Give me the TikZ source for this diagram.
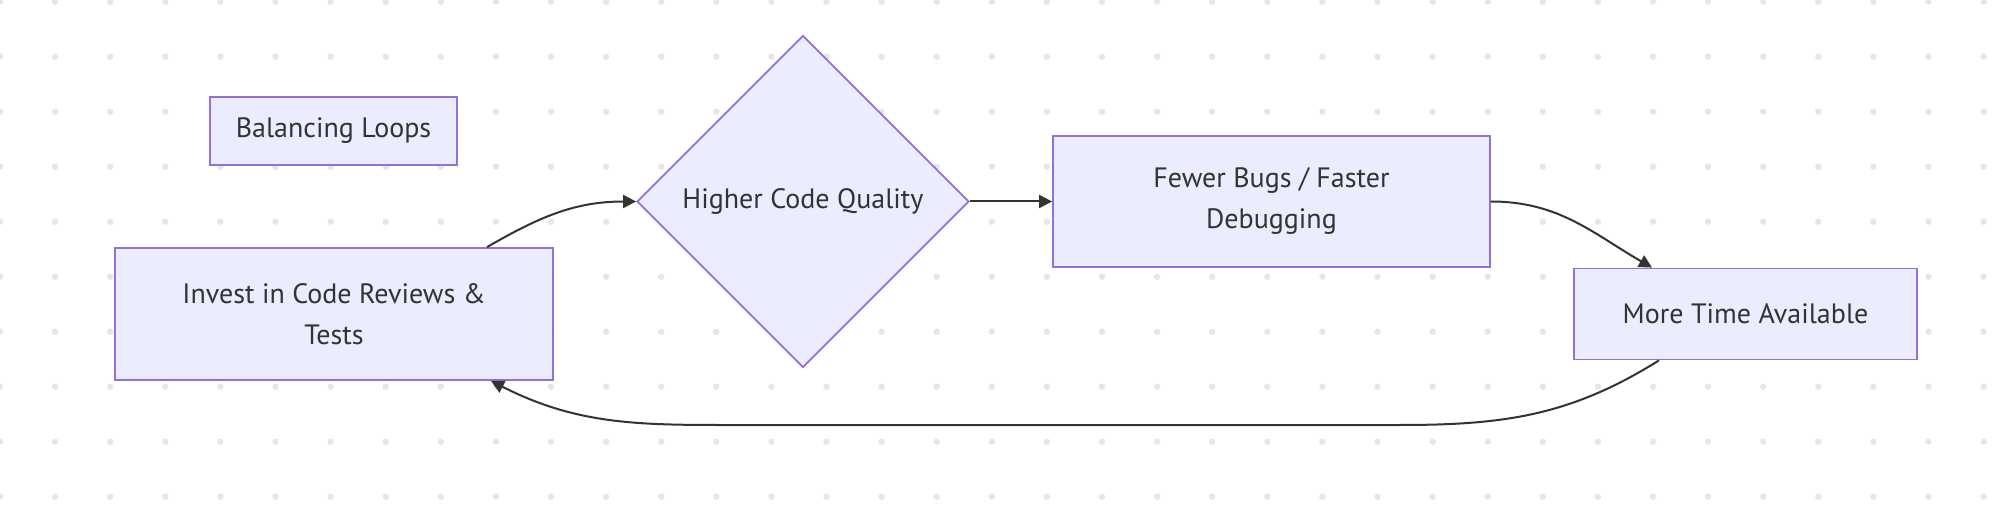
\documentclass[tikz,border=0pt]{standalone}
\usepackage{fontspec}
\setmainfont{PT Sans}
\usetikzlibrary{shapes.geometric,arrows.meta}
\definecolor{boxfill}{HTML}{ECECFF}
\definecolor{boxline}{HTML}{9370DB}
\definecolor{edgegray}{HTML}{333333}
\definecolor{dotgray}{HTML}{E6E6E6}

\begin{document}
\begin{tikzpicture}[x=0.5pt, y=0.5pt, >={Triangle[length=6.5pt,width=6.5pt]},
    box/.style={draw=boxline, fill=boxfill, line width=0.9pt, text=edgegray,
        align=center, inner sep=0pt, font=\fontsize{14}{20.5}\selectfont},
    flow/.style={->, line width=1pt, edgegray}]
    \useasboundingbox (0,0) rectangle (1999,515);
    \fill[white] (0,0) rectangle (1999,515);

    % dotted background
    \foreach \i in {0,...,36}
        \foreach \j in {0,...,9}
            \fill[dotgray] (55.1*\i, 513.3-55*\j) circle (1.6pt);

    \node[box, minimum width=123.5pt, minimum height=34pt] (bal) at (333.5,384) {Balancing Loops};
    \node[box, minimum width=219pt, minimum height=66pt] (inv) at (334,201) {Invest in Code Reviews \&\\Tests};
    \node[box, diamond, minimum width=166pt, minimum height=166pt] (hcq) at (803,313.5) {Higher Code Quality};
    \node[box, minimum width=218.5pt, minimum height=65.5pt] (fb) at (1271.5,313.5) {Fewer Bugs / Faster\\Debugging};
    \node[box, minimum width=171.5pt, minimum height=45.5pt] (mt) at (1745.5,201) {More Time Available};

    \coordinate (loopR) at (1400,90);
    \coordinate (loopL) at (743,90);

    \draw[flow] ([xshift=76.5pt]inv.north) to[out=30, in=180] (hcq.west);
    \draw[flow] (hcq.east) -- (fb.west);
    \draw[flow] (fb.east) to[out=0, in=150] ([xshift=-46.75pt]mt.north);
    \draw[flow] ([xshift=-43.25pt]mt.south) to[out=212, in=0] (loopR)
        -- (loopL) to[out=180, in=-27] ([xshift=78.5pt]inv.south);
\end{tikzpicture}
\end{document}
